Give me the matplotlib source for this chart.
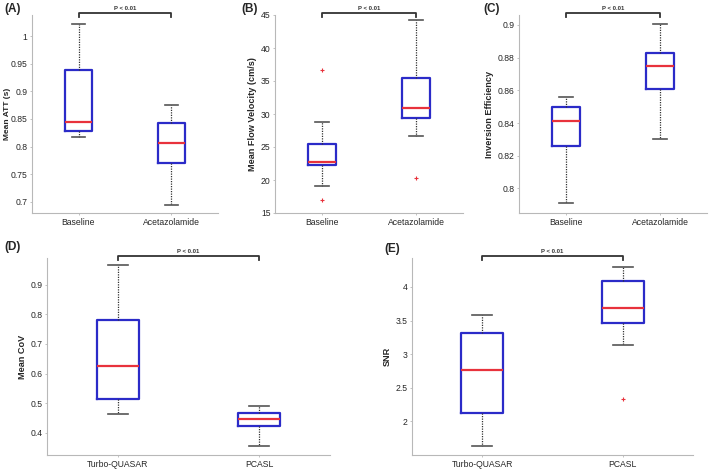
import matplotlib
matplotlib.use("Agg")
import matplotlib.pyplot as plt

plt.rcParams['font.family'] = ['Liberation Sans', 'DejaVu Sans']

# ---- data (box statistics) ----
cats_top = ["Baseline", "Acetazolamide"]
cats_bot = ["Turbo-QUASAR", "PCASL"]

# order: whislo, q1, med, q3, whishi
att_base = [0.818, 0.828, 0.844, 0.938, 1.022]
att_acet = [0.695, 0.770, 0.806, 0.842, 0.875]
att_fliers = [[], []]

vel_base = [19.1, 22.3, 22.7, 25.4, 28.8]
vel_acet = [26.7, 29.4, 30.9, 35.5, 44.2]
vel_fliers = [[36.6, 17.0], [20.3]]

ie_base = [0.791, 0.826, 0.841, 0.850, 0.856]
ie_acet = [0.8305, 0.861, 0.875, 0.883, 0.9005]
ie_fliers = [[], []]

cov_tq = [0.465, 0.515, 0.625, 0.782, 0.965]
cov_pc = [0.355, 0.422, 0.448, 0.467, 0.492]
cov_fliers = [[], []]

snr_tq = [1.63, 2.13, 2.77, 3.32, 3.58]
snr_pc = [3.14, 3.46, 3.69, 4.09, 4.30]
snr_fliers = [[], [2.34]]

W, H = 709, 470
fig = plt.figure(figsize=(W / 100, H / 100), dpi=100)


def ax_px(l, t, r, b):
    return fig.add_axes([l / W, 1 - b / H, (r - l) / W, (b - t) / H])


BLUE = "#2b2bc8"
RED = "#e8323c"
GRAY = "#555555"
TXT = "#262626"


def panel(ax, stats_list, fliers, cats, ylim, yticks, yticklabels, ylabel, letter, letter_xy,
          ylabel_size=6.6, ylabel_x=None):
    stats = []
    for s, f, c in zip(stats_list, fliers, cats):
        stats.append(dict(whislo=s[0], q1=s[1], med=s[2], q3=s[3], whishi=s[4], fliers=f, label=c))
    ax.bxp(stats, positions=[1, 2], widths=0.3, showfliers=True,
           boxprops=dict(color=BLUE, linewidth=1.6),
           medianprops=dict(color=RED, linewidth=1.6),
           whiskerprops=dict(color="#333333", linewidth=0.9, linestyle=(0, (1, 1))),
           capprops=dict(color=GRAY, linewidth=1.2),
           capwidths=0.14,
           flierprops=dict(marker='+', markeredgecolor=RED, markersize=3, markeredgewidth=0.8))
    ax.set_xlim(0.5, 2.5)
    ax.set_ylim(*ylim)
    ax.set_yticks(yticks)
    ax.set_yticklabels(yticklabels)
    ax.set_xticks([1, 2])
    ax.set_xticklabels(cats)
    for sp in ["top", "right"]:
        ax.spines[sp].set_visible(False)
    for sp in ["left", "bottom"]:
        ax.spines[sp].set_color("#b8b8b8")
        ax.spines[sp].set_linewidth(0.8)
    ax.tick_params(axis="both", labelsize=6.2, colors="#b8b8b8", labelcolor=TXT,
                   length=1.5, width=0.6, pad=1.8)
    ax.set_ylabel(ylabel, fontsize=ylabel_size, fontweight="bold", color=TXT, labelpad=2.5)
    if ylabel_x is not None:
        ax.yaxis.set_label_coords(ylabel_x, 0.5)
    # significance bracket
    y0 = ylim[1]
    span = ylim[1] - ylim[0]
    ytop = y0 + span * 0.008
    ax.plot([1, 1, 2, 2], [ytop - span * 0.02, ytop, ytop, ytop - span * 0.02],
            color="#333333", linewidth=1.3, clip_on=False)
    ax.text(1.5, ytop + span * 0.012, "P < 0.01", fontsize=4.3, fontweight="bold",
            ha="center", va="bottom", color="#333333")
    fig.text(letter_xy[0] / W, 1 - letter_xy[1] / H, letter, fontsize=8.5, fontweight="bold",
             ha="left", va="center", color=TXT)


axA = ax_px(32, 15, 218, 213)
panel(axA, [att_base, att_acet], att_fliers, cats_top, (0.68, 1.038),
      [0.7, 0.75, 0.8, 0.85, 0.9, 0.95, 1.0], ["0.7", "0.75", "0.8", "0.85", "0.9", "0.95", "1"],
      "Mean ATT (s)", "(A)", (4, 9), ylabel_size=6.0, ylabel_x=(11 - 32) / 186)

axB = ax_px(275, 15, 463, 213)
panel(axB, [vel_base, vel_acet], vel_fliers, cats_top, (15, 45),
      [15, 20, 25, 30, 35, 40, 45], ["15", "20", "25", "30", "35", "40", "45"],
      "Mean Flow Velocity (cm/s)", "(B)", (241, 9))

axC = ax_px(519, 15, 707, 213)
panel(axC, [ie_base, ie_acet], ie_fliers, cats_top, (0.785, 0.906),
      [0.8, 0.82, 0.84, 0.86, 0.88, 0.9], ["0.8", "0.82", "0.84", "0.86", "0.88", "0.9"],
      "Inversion Efficiency", "(C)", (483, 9))

axD = ax_px(47, 258, 330, 455)
panel(axD, [cov_tq, cov_pc], cov_fliers, cats_bot, (0.325, 0.99),
      [0.4, 0.5, 0.6, 0.7, 0.8, 0.9], ["0.4", "0.5", "0.6", "0.7", "0.8", "0.9"],
      "Mean CoV", "(D)", (4, 247))

axE = ax_px(412, 258, 693, 455)
panel(axE, [snr_tq, snr_pc], snr_fliers, cats_bot, (1.5, 4.43),
      [2, 2.5, 3, 3.5, 4], ["2", "2.5", "3", "3.5", "4"],
      "SNR", "(E)", (384, 249))

fig.savefig("out.png", dpi=100)
